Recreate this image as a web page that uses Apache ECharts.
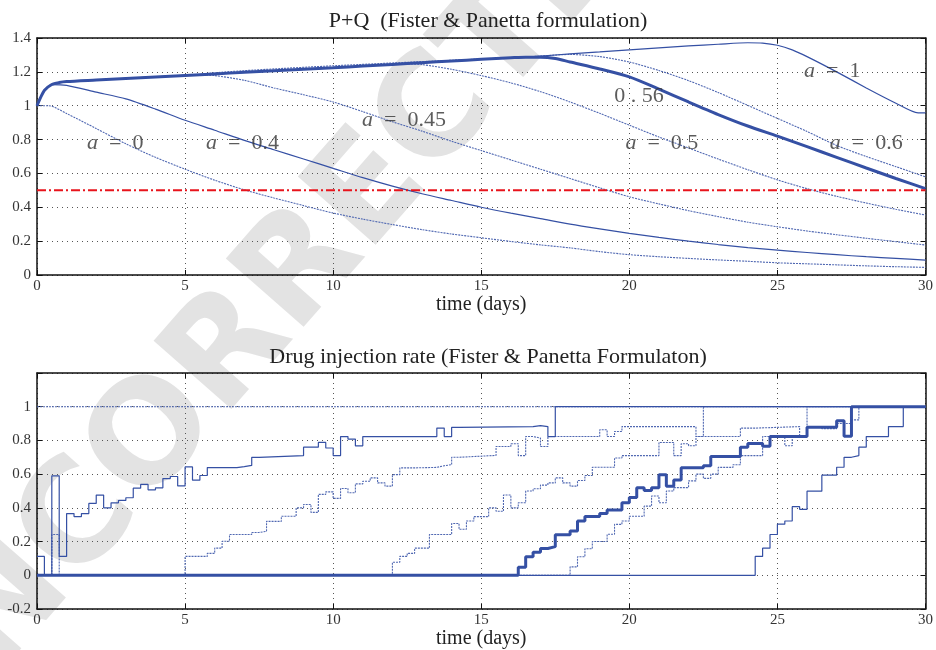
<!DOCTYPE html>
<html><head><meta charset="utf-8">
<script src="https://cdn.jsdelivr.net/npm/echarts@6/dist/echarts.min.js"></script>
<style>html,body{margin:0;padding:0;background:#fff}#c{width:936px;height:650px}</style>
</head><body><div id="c"></div>
<script>
// ---------- data ----------
const xTicks = [0, 5, 10, 15, 20, 25, 30];
const yTicksTop = [0, 0.2, 0.4, 0.6, 0.8, 1, 1.2, 1.4];
const yTicksBottom = [-0.2, 0, 0.2, 0.4, 0.6, 0.8, 1, 1.2];
const threshold = 0.5;

// P+Q curves (t, value)
const envelope = [[0,1],[0.25,1.09],[0.5,1.125],[0.75,1.137],[1,1.143],[2,1.152],[3,1.161],[4,1.17],[5,1.179],[6,1.188],[7,1.197],[8,1.206],[9,1.215],[10,1.224],[11,1.234],[12,1.244],[13,1.254],[14,1.264],[15,1.274],[16,1.283],[16.5,1.287]];
const pq_a0 = [[0,1],[0.4,1],[1,0.954],[2,0.865],[3,0.775],[4,0.695],[5,0.625],[6,0.56],[7,0.503],[8,0.455],[9,0.41],[10,0.366],[11,0.33],[12,0.298],[13,0.268],[14,0.242],[15,0.22],[16,0.198],[17,0.178],[18,0.16],[19,0.138],[20,0.12],[21,0.108],[22,0.098],[23,0.089],[24,0.081],[25,0.072],[26,0.066],[27,0.06],[28,0.054],[29,0.049],[30,0.045]];
const pq_a04 = [[0,1],[0.25,1.09],[0.5,1.125],[1,1.12],[2,1.08],[3,1.04],[4,0.98],[5,0.914],[6,0.855],[7,0.795],[8,0.74],[9,0.685],[10,0.63],[11,0.575],[12,0.525],[13,0.48],[14,0.44],[15,0.40],[16,0.365],[17,0.333],[18,0.3],[19,0.272],[20,0.246],[21,0.222],[22,0.2],[23,0.18],[24,0.162],[25,0.147],[26,0.133],[27,0.12],[28,0.108],[29,0.098],[30,0.088]];
const pq_a045_tail = [[5.5,1.182],[6,1.178],[7,1.15],[8,1.105],[9,1.065],[10,1.022],[11,0.965],[12,0.905],[13,0.85],[14,0.79],[15,0.735],[16,0.68],[17,0.625],[18,0.57],[19,0.515],[20,0.462],[21,0.42],[22,0.38],[23,0.345],[24,0.312],[25,0.285],[26,0.26],[27,0.238],[28,0.217],[29,0.197],[30,0.177]];
const pq_a05_tail = [[12.5,1.248],[13,1.243],[14,1.215],[15,1.178],[16,1.135],[17,1.083],[18,1.022],[19,0.955],[20,0.885],[21,0.815],[22,0.75],[23,0.685],[24,0.622],[25,0.562],[26,0.51],[27,0.465],[28,0.425],[29,0.388],[30,0.354]];
const pq_a056_tail = [[17,1.287],[17.5,1.279],[18,1.258],[19,1.217],[20,1.17],[21,1.098],[22,1.022],[23,0.948],[24,0.88],[25,0.82],[26,0.758],[27,0.695],[28,0.632],[29,0.57],[30,0.51]];
const pq_a06_tail = [[17,1.293],[18,1.303],[19,1.29],[20,1.258],[21,1.208],[22,1.148],[23,1.078],[24,1.002],[25,0.925],[26,0.848],[27,0.765],[28,0.7],[29,0.64],[30,0.58]];
const pq_a1_tail = [[17,1.293],[18,1.306],[19,1.318],[20,1.33],[21,1.342],[22,1.353],[23,1.363],[24,1.372],[24.5,1.37],[25,1.357],[25.5,1.33],[26,1.29],[27,1.2],[28,1.105],[29,1.015],[29.75,0.958],[30,0.958]];

// curve labels: [text, t, value]
const curveLabels = [
  ['{i|a}\u2002=\u20020', 2.64, 0.78],
  ['{i|a}\u2002=\u20020.4', 6.94, 0.78],
  ['{i|a}\u2002=\u20020.45', 12.39, 0.915],
  ['0 . 56', 20.33, 1.056],
  ['{i|a}\u2002=\u20020.5', 21.1, 0.78],
  ['{i|a}\u2002=\u20021', 26.85, 1.204],
  ['{i|a}\u2002=\u20020.6', 28.0, 0.78]
];

// Drug injection rate (step start time, value)
const u_a0 = [[0,1],[30,1]];
const u_a04 = [[0,0.112],[0.25,0],[0.5,0.59],[0.75,0.112],[1,0.366],[1.25,0.348],[1.5,0.366],[1.75,0.426],[2,0.476],[2.25,0.40],[2.5,0.43],[2.75,0.444],[3,0.46],[3.25,0.517],[3.5,0.539],[3.75,0.507],[4,0.519],[4.25,0.574],[4.5,0.586],[4.75,0.53],[5,0.643],[5.25,0.564],[5.5,0.592],[5.75,0.639],[6.75,0.645],[7,0.652],[7.25,0.70],[7.5,0.71],[9,0.76],[9.5,0.788],[9.75,0.755],[10,0.71],[10.25,0.823],[10.5,0.808],[10.75,0.768],[11,0.823],[13.5,0.873],[13.75,0.823],[14,0.878],[14.25,0.882],[16.75,0.888],[17,0.882],[17.25,0.823],[17.5,1],[30,1]];
const u_a045 = [[0,0],[0.5,0.242],[0.75,0],[5,0.112],[5.75,0.13],[6,0.161],[6.25,0.202],[6.5,0.242],[7.25,0.254],[7.5,0.261],[7.75,0.32],[8.25,0.35],[8.75,0.40],[9,0.42],[9.25,0.373],[9.5,0.48],[9.75,0.495],[10,0.456],[10.25,0.515],[10.5,0.49],[10.75,0.542],[11,0.558],[11.25,0.578],[11.5,0.548],[11.75,0.529],[12,0.597],[12.25,0.637],[12.75,0.64],[13.5,0.65],[13.75,0.656],[14,0.70],[14.25,0.711],[15.5,0.764],[16,0.78],[16.25,0.71],[16.5,0.823],[16.75,0.814],[17,0.764],[17.25,0.823],[19,0.863],[19.25,0.823],[19.5,0.853],[19.75,0.882],[22.25,0.823],[22.5,1],[30,1]];
const u_a05 = [[0,0],[12,0.077],[12.25,0.112],[12.5,0.13],[12.75,0.161],[13.25,0.242],[14,0.307],[14.25,0.273],[14.5,0.322],[14.75,0.348],[15.25,0.40],[15.5,0.38],[15.75,0.476],[16,0.40],[16.25,0.43],[16.5,0.50],[16.75,0.513],[17,0.535],[17.25,0.548],[17.5,0.578],[17.75,0.548],[18,0.529],[18.25,0.562],[18.5,0.592],[18.75,0.641],[19.5,0.696],[19.75,0.71],[21,0.788],[21.5,0.71],[21.75,0.78],[22,0.768],[22.25,0.823],[23.75,0.873],[24.25,0.882],[25.75,0.823],[26,1],[30,1]];
const u_a056 = [[0,0],[16.25,0.047],[16.5,0.11],[16.75,0.136],[17,0.159],[17.25,0.17],[17.5,0.24],[18,0.263],[18.25,0.322],[18.5,0.348],[19,0.367],[19.25,0.387],[19.75,0.43],[20,0.462],[20.25,0.52],[20.5,0.503],[20.75,0.52],[21,0.597],[21.25,0.528],[21.5,0.565],[21.75,0.638],[22.5,0.65],[22.75,0.705],[23.75,0.76],[24,0.782],[24.5,0.766],[24.75,0.823],[26,0.878],[27,0.917],[27.25,0.825],[27.5,1],[30,1]];
const u_a06 = [[0,0],[18,0.05],[18.25,0.11],[18.5,0.157],[18.75,0.2],[19.25,0.243],[19.5,0.302],[19.75,0.322],[20,0.35],[20.5,0.41],[20.75,0.47],[21,0.43],[21.25,0.50],[21.5,0.52],[22,0.56],[22.25,0.60],[22.5,0.575],[22.75,0.60],[23,0.64],[23.5,0.656],[23.75,0.71],[24.5,0.823],[25.25,0.768],[25.5,0.823],[26,0.882],[26.5,0.87],[27,0.9],[27.5,0.922],[27.75,1],[30,1]];
const u_a1 = [[0,0],[24.25,0.112],[24.5,0.161],[24.75,0.242],[25,0.303],[25.25,0.322],[25.5,0.407],[25.75,0.391],[26,0.499],[26.5,0.594],[27,0.641],[27.25,0.70],[27.5,0.71],[27.75,0.76],[28,0.823],[28.75,0.882],[29.25,1],[30,1]];

// ---------- styling ----------
const FONT = '"Liberation Serif", "DejaVu Serif", serif';
const BLUE = '#3550a4';
const BLUE_L = '#5068b2';
const fmt = v => { const r = Math.round(v * 10) / 10; return String(r); };

function xAx(grid, pos, labels) {
  return {
    gridIndex: grid, type: 'value', position: pos,
    min: xTicks[0], max: xTicks[xTicks.length - 1], interval: xTicks[1] - xTicks[0],
    axisLine: { show: true, onZero: false, lineStyle: { color: '#111', width: 1.5 } },
    axisTick: { show: true, inside: true, length: 5, lineStyle: { color: '#111' } },
    axisLabel: { show: labels, color: '#333', fontFamily: FONT, fontSize: 15, margin: 4 },
    splitLine: { show: labels, lineStyle: { color: '#555', type: [1, 4], width: 1 } },
    name: labels ? 'time (days)' : '', nameLocation: 'middle', nameGap: 20,
    nameTextStyle: { color: '#222', fontFamily: FONT, fontSize: 20 }
  };
}
function yAx(grid, pos, labels, ticks, hideTop) {
  return {
    gridIndex: grid, type: 'value', position: pos,
    min: ticks[0], max: ticks[ticks.length - 1], interval: +(ticks[1] - ticks[0]).toFixed(6),
    axisLine: { show: true, onZero: false, lineStyle: { color: '#111', width: 1.5 } },
    axisTick: { show: true, inside: true, length: 5, lineStyle: { color: '#111' } },
    axisLabel: { show: labels, color: '#333', fontFamily: FONT, fontSize: 15, margin: 6,
      formatter: v => (hideTop && Math.abs(v - ticks[ticks.length - 1]) < 1e-6) ? '' : fmt(v) },
    splitLine: { show: labels, lineStyle: { color: '#555', type: [1, 4], width: 1 } }
  };
}

function curve(data, kind, xi, yi, step) {
  const s = { type: 'line', data: data, xAxisIndex: xi, yAxisIndex: yi, showSymbol: false, symbol: 'none',
    animation: false, silent: true };
  if (step) s.step = 'end'; else s.smooth = 0.25;
  if (kind === 'thick') { s.lineStyle = { color: BLUE, width: 3 }; s.z = 5; }
  else if (kind === 'solid') { s.lineStyle = { color: BLUE, width: 1.2 }; s.z = 4; }
  else { s.lineStyle = { color: BLUE_L, width: 1.1, type: [2, 1] }; s.z = 3; }
  return s;
}

const series = [
  curve(pq_a0, 'dot', 0, 0),
  curve(pq_a04, 'solid', 0, 0),
  curve(envelope.concat(pq_a045_tail), 'dot', 0, 0),
  curve(envelope.concat(pq_a05_tail), 'dot', 0, 0),
  curve(envelope.concat(pq_a06_tail), 'dot', 0, 0),
  curve(envelope.concat(pq_a1_tail), 'solid', 0, 0),
  curve(envelope.concat(pq_a056_tail), 'thick', 0, 0),
  { type: 'line', xAxisIndex: 0, yAxisIndex: 0, data: [[xTicks[0], threshold], [xTicks[xTicks.length - 1], threshold]],
    showSymbol: false, symbol: 'none', animation: false, silent: true, z: 6,
    lineStyle: { color: '#e8141c', width: 2, type: [9, 3, 2, 3] } },
  { type: 'scatter', xAxisIndex: 0, yAxisIndex: 0, symbolSize: 0, z: 7, silent: true, animation: false,
    data: curveLabels.map(d => [d[1], d[2], d[0]]),
    label: { show: true, position: 'inside', formatter: p => p.data[2], color: '#333',
      fontFamily: FONT, fontSize: 22,
      rich: { i: { fontStyle: 'italic', fontFamily: FONT, fontSize: 22, color: '#333' } } } },
  curve(u_a0, 'dot', 2, 2, true),
  curve(u_a045, 'dot', 2, 2, true),
  curve(u_a05, 'dot', 2, 2, true),
  curve(u_a06, 'dot', 2, 2, true),
  curve(u_a04, 'solid', 2, 2, true),
  curve(u_a1, 'solid', 2, 2, true),
  curve(u_a056, 'thick', 2, 2, true)
];

const chart = echarts.init(document.getElementById('c'), null, { renderer: 'canvas' });
chart.setOption({
  backgroundColor: '#fff',
  animation: false,
  title: [
    { text: 'P+Q  (Fister & Panetta formulation)', left: 483, top: 5, textAlign: 'center',
      textStyle: { fontFamily: FONT, fontSize: 22, fontWeight: 'normal', color: '#222' } },
    { text: 'Drug injection rate (Fister & Panetta Formulaton)', left: 483, top: 341, textAlign: 'center',
      textStyle: { fontFamily: FONT, fontSize: 22, fontWeight: 'normal', color: '#222' } }
  ],
  graphic: [{
    type: 'text', x: 285, y: 292, rotation: 0.85, z: -10, silent: true,
    style: { text: 'UNCORRECTED', fill: '#e3e3e3', font: 'bold 142px "DejaVu Sans", sans-serif',
      textAlign: 'center', textVerticalAlign: 'middle' }
  }],
  grid: [
    { left: 37, top: 38, width: 892, height: 237 },
    { left: 37, top: 373, width: 892, height: 237 }
  ],
  xAxis: [xAx(0, 'bottom', true), xAx(0, 'top', false), xAx(1, 'bottom', true), xAx(1, 'top', false)],
  yAxis: [yAx(0, 'left', true, yTicksTop, false), yAx(0, 'right', false, yTicksTop, false),
          yAx(1, 'left', true, yTicksBottom, true), yAx(1, 'right', false, yTicksBottom, true)],
  series: series
});
</script></body></html>
